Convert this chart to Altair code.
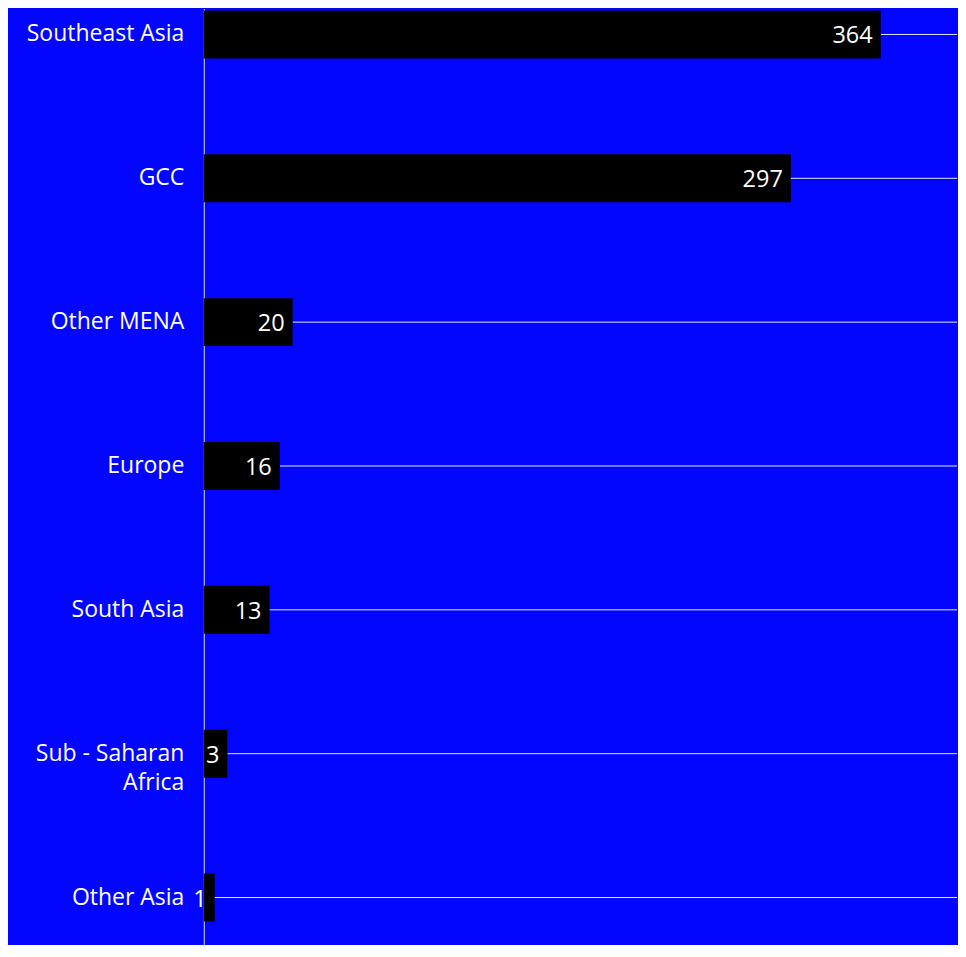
import altair as alt
import pandas as pd

regions = ["Southeast Asia", "GCC", "Other MENA", "Europe", "South Asia",
           "Sub - Saharan Africa", "Other Asia"]
counts = [364, 297, 20, 16, 13, 3, 1]

XMAX = 424
BLUE = "#0206ff"
FONT = "Open Sans"

df = pd.DataFrame({"region": regions, "count": counts})

y_enc = alt.Y(
    "region:N",
    sort=regions,
    title=None,
    scale=alt.Scale(paddingInner=0.6667, paddingOuter=0.087, align=0.08),
    axis=alt.Axis(
        domainColor="#d4d4ff",
        domainWidth=1,
        ticks=False,
        grid=False,
        labelFont=FONT,
        labelFontSize=23,
        labelColor="#ffffff",
        labelPadding=20,
        labelLimit=400,
        labelLineHeight=29,
        labelExpr="datum.value == 'Sub - Saharan Africa' ? ['Sub - Saharan', 'Africa'] : datum.label",
        minExtent=196,
        maxExtent=196,
    ),
)

x_scale = alt.Scale(type="pow", exponent=0.7, domain=[0, XMAX], nice=False)

base = alt.Chart(df)

rules = base.mark_rule(color="#e4e4ff", strokeWidth=1).encode(
    x=alt.X("count:Q", scale=x_scale, axis=None),
    x2=alt.datum(XMAX),
    y=y_enc,
)

bars = base.mark_bar(color="#000000").encode(
    x=alt.X("count:Q", scale=x_scale, axis=None),
    y=y_enc,
)

labels = base.mark_text(
    align="right", baseline="middle", dx=-8, dy=2,
    font=FONT, fontSize=23.5, color="#ffffff",
).encode(
    x=alt.X("count:Q", scale=x_scale, axis=None),
    y=y_enc,
    text=alt.Text("count:Q"),
)

chart = alt.layer(rules, bars, labels).properties(
    width=754,
    height=937,
    padding=0,
    background=BLUE,
).configure_view(strokeWidth=0, fill=BLUE)

chart.save("out.html", embed_options={"renderer": "svg", "actions": False})
